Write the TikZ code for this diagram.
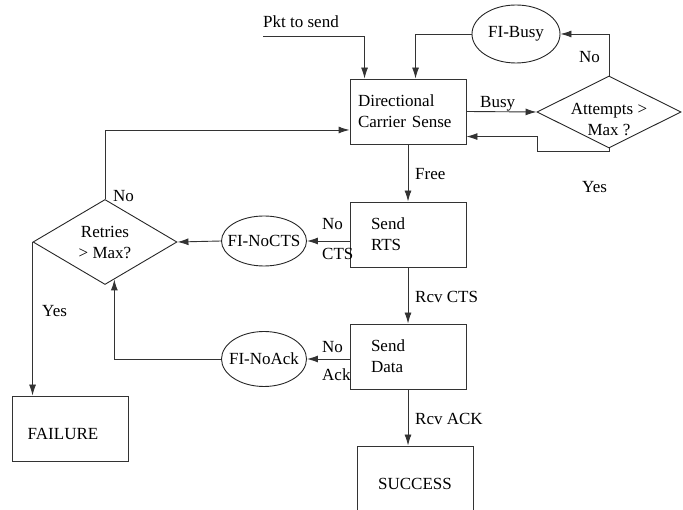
\documentclass[tikz,border=0pt]{standalone}
\usepackage{fontspec}
\setmainfont{Liberation Serif}
\usetikzlibrary{shapes.geometric,arrows.meta,calc}
\begin{document}
\begin{tikzpicture}[x=1pt,y=-1pt,
  every node/.style={font=\fontsize{17}{21}\selectfont},
  ln/.style={draw=black!80, line width=0.9pt},
  arr/.style={ln, -{Latex[length=11pt,width=7pt]}},
  box/.style={draw=black!80, line width=0.9pt, rectangle, minimum width=116pt, minimum height=65pt},
  oval/.style={draw=black!85, line width=0.9pt, ellipse, inner sep=0pt},
  dia/.style={draw=black!85, line width=0.9pt, diamond, inner sep=0pt, minimum width=144pt, minimum height=72pt},
  lbl/.style={inner sep=0pt, anchor=base west}]
\clip (0,0) rectangle (683,510);
\useasboundingbox (0,0) rectangle (683,510);

% boxes
\node[box, align=left, text width=100pt, inner xsep=8pt] (dcs) at (408,111.5) {Directional\\Carrier Sense};
\node[box, align=left, text width=74pt, inner xsep=21pt] (rts) at (408,234.5) {Send\\RTS};
\node[box, align=left, text width=74pt, inner xsep=21pt] (data) at (408,356.5) {Send\\Data};
\node[box] (fail) at (70,428.5) {\hspace*{-14pt}\raisebox{-11.5pt}[0pt][0pt]{FAILURE}};
\node[box] (success) at (415,478.5) {\raisebox{-11.5pt}[0pt][0pt]{SUCCESS}};

% decisions
\node[dia, label={[align=center, yshift=-8pt]center:{Attempts >\\Max ?}}] (att) at (609,112) {};
\node[dia, align=center] (ret) at (105,242) {Retries\\> Max?};

% ovals
\node[oval, minimum width=88pt, minimum height=58pt] (fibusy) at (516,34) {\makebox[0pt]{FI-Busy}};
\node[oval, minimum width=85pt, minimum height=50pt] (nocts) at (264,241) {\makebox[0pt]{FI-NoCTS}};
\node[oval, minimum width=85pt, minimum height=55pt] (noack) at (264,359) {\makebox[0pt]{FI-NoAck}};

% labels
\node[lbl] (pkttext) at (263,28) {Pkt to send};
\node[lbl] (busyl) at (480,108) {Busy};
\node[lbl] (nol1) at (579,63) {No};
\node[lbl] (yesl1) at (582,193) {Yes};
\node[lbl] (freel) at (415,180) {Free};
\node[lbl] (nol2) at (113,202) {No};
\node[lbl] (nol3) at (322,230) {No};
\node[lbl] (ctsl) at (322,260) {CTS};
\node[lbl] (rcvcts) at (415,303) {Rcv CTS};
\node[lbl] (nol4) at (322,353) {No};
\node[lbl] (ackl) at (322,381) {Ack};
\node[lbl] (yesl2) at (42,317) {Yes};
\node[lbl] (rcvack) at (415,425) {Rcv ACK};

% connectors
\coordinate (pkt) at (263,36);
\draw[arr] (pkt) -| ([xshift=15pt]dcs.north west);
\draw[arr] (fibusy.west) -| ([xshift=66pt]dcs.north west);
\draw[arr] (att.north) |- (fibusy.east);
\draw[arr] (dcs.east) -- (att.west);
\draw[arr] (att.south) -- ++(0,3) -- ++(-72,0) |- ([yshift=-58pt]dcs.north east);
\draw[arr] (dcs.south) -- (rts.north);
\draw[arr] (rts.south) -- (data.north);
\draw[arr] (data.south) -- (data.south |- success.north);
\draw[arr] (rts.west |- nocts.east) -- (nocts.east);
\draw[arr] (nocts.west) -- (ret.east);
\draw[arr] (data.west |- noack.east) -- (noack.east);
\draw[arr] (noack.west) -| (ret.-76);
\draw[arr] (ret.north) |- ([yshift=-18.5pt]dcs.west);
\draw[arr] (ret.west) -- (ret.west |- fail.north);
\end{tikzpicture}
\end{document}
